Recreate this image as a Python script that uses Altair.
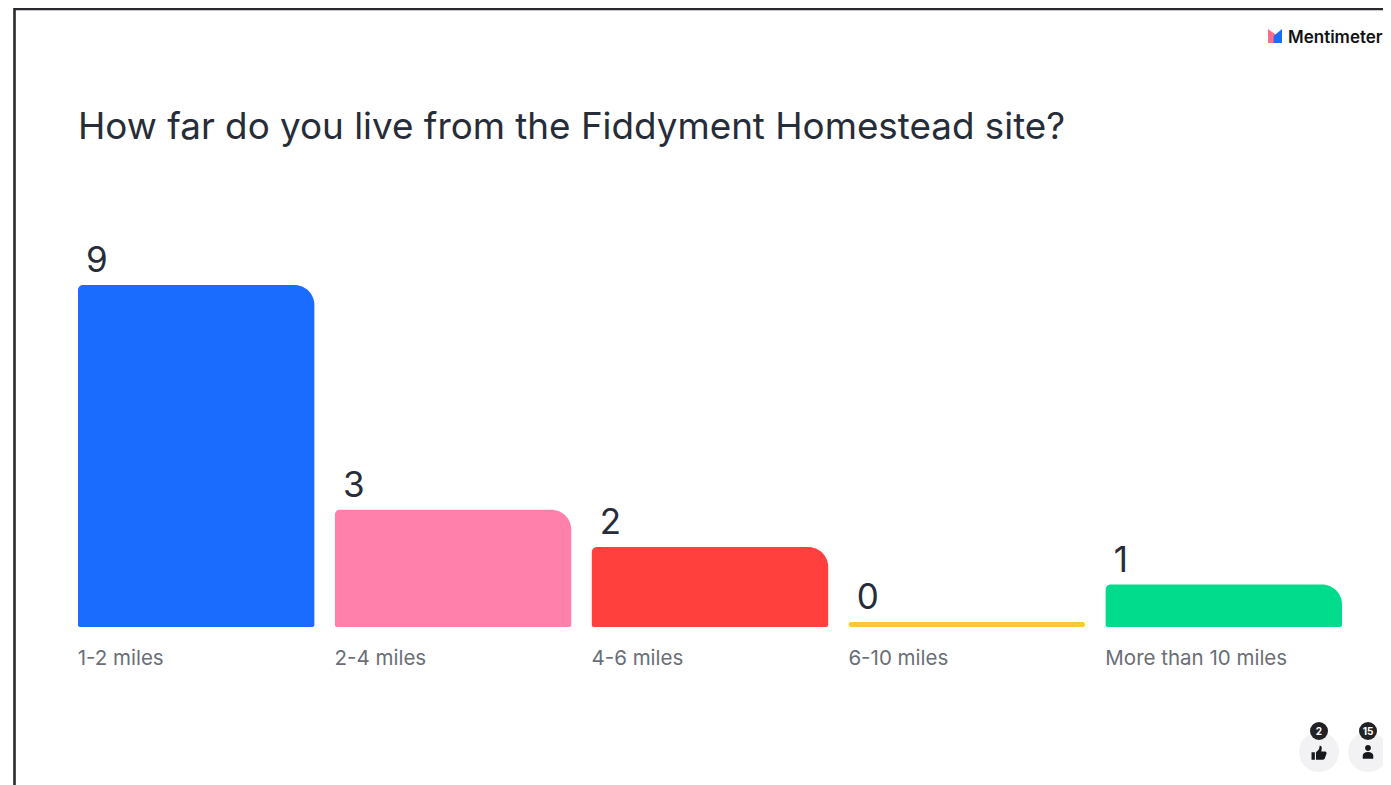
import altair as alt
import pandas as pd

categories = ["1-2 miles", "2-4 miles", "4-6 miles", "6-10 miles", "More than 10 miles"]
votes = [9, 3, 2, 0, 1]
colors = ["#196CFF", "#FF80AB", "#FF403D", "#FFC738", "#00DC8C"]
question = "How far do you live from the Fiddyment Homestead site?"
brand = "Mentimeter"
reactions = "2"
participants = "15"

FONT = "Inter"
INK = "#262C38"
MUTED = "#6A6E76"
FLOOR = -0.134

df = pd.DataFrame({"cat": categories, "votes": votes, "color": colors})
one = alt.Data(values=[{"k": 1}])

PL, PT, PW, PH = 78, 285, 1264, 342
def X(v): return alt.value(v - PL)
def Y(v): return alt.value(v - PT)

xs = alt.X("cat:N", sort=categories, scale=alt.Scale(paddingInner=0.08, paddingOuter=0),
           axis=alt.Axis(title=None, ticks=False, domain=False, labelAngle=0, labelAlign="left",
                         labelOffset=-118.5, labelFontSize=20.5, labelColor=MUTED, labelFont=FONT,
                         labelPadding=31, labelBaseline="middle", labelLimit=300))
ys = alt.Y("votes:Q", scale=alt.Scale(domain=[FLOOR, 9]), axis=None)
col = alt.Color("color:N", scale=None, legend=None)

base = alt.Chart(df)
bars = base.transform_filter("datum.votes > 0").mark_bar(
    cornerRadiusTopRight=20, cornerRadiusTopLeft=5, cornerRadiusBottomLeft=2, cornerRadiusBottomRight=2
).encode(x=xs, y=ys, y2=alt.datum(FLOOR), color=col)
stub = base.transform_filter("datum.votes === 0").mark_bar(cornerRadius=2.5).encode(
    x=xs, y=ys, y2=alt.datum(FLOOR), color=col)
nums = base.mark_text(align="left", baseline="bottom", dx=8, dy=-6, fontSize=35, font=FONT, color=INK).encode(
    x=alt.X("cat:N", sort=categories, bandPosition=0), y=ys, text="votes:Q")

def frame(x1, x2, y1, y2, w=2.6, c="#2A2A2E"):
    return alt.Chart(one).mark_rule(color=c, strokeWidth=w).encode(x=X(x1), x2=X(x2), y=Y(y1), y2=Y(y2))

def dot(x, y, r, c):
    return alt.Chart(one).mark_point(filled=True, opacity=1, color=c, shape="circle",
                                     size=4 * r * r).encode(x=X(x), y=Y(y))

def glyph(x, y, path, s, c="#17181C"):
    return alt.Chart(one).mark_point(filled=True, opacity=1, color=c, shape=path, size=s * s,
                                     strokeWidth=0).encode(x=X(x), y=Y(y))

def label(x, y, t, size, c, weight=400, align="left"):
    return alt.Chart(one).mark_text(text=t, fontSize=size, color=c, font=FONT, fontWeight=weight,
                                    align=align, baseline="middle").encode(x=X(x), y=Y(y))

thumb = "M-1 -0.1 L-0.55 -0.1 L-0.55 0.9 L-1 0.9 Z M-0.4 -0.1 L0 -0.5 L0.1 -1 Q0.45 -0.95 0.35 -0.5 L0.3 -0.2 L0.85 -0.2 Q1.05 -0.15 1 0.1 L0.75 0.75 Q0.65 0.9 0.5 0.9 L-0.4 0.9 Z"
person = "M0 -1 A0.42 0.42 0 1 1 -0.001 -1 Z M-0.75 0.95 L-0.75 0.5 Q-0.7 0 0 0 Q0.7 0 0.75 0.5 L0.75 0.95 Z"
logo_l = "M-1 -1 L0.1 -0.2 L0.1 1 L-1 1 Z"
logo_r = "M-0.2 0 L1 -1 L1 1 L-0.2 1 Z"

layers = [
    frame(14.5, 1391, 9, 9),
    frame(14.5, 14.5, 8, 785),
    bars, stub, nums,
    label(78, 127.5, question, 36.8, INK),
    glyph(1275, 36, logo_l, 14, "#FF6A8E"),
    glyph(1275, 36, logo_r, 14, "#196CFF"),
    label(1288, 38, brand, 17, "#101216", 600),
    dot(1319, 752, 20, "#F2F2F4"),
    dot(1368, 752, 20, "#F2F2F4"),
    glyph(1319, 753, thumb, 15),
    glyph(1368, 752, person, 14),
    dot(1319, 731, 9, "#222226"),
    dot(1368, 731, 9, "#222226"),
    label(1319, 731.5, reactions, 10, "#FFFFFF", 700, "center"),
    label(1368, 731.5, participants, 10, "#FFFFFF", 700, "center"),
]

chart = alt.layer(*layers).properties(
    width=PW, height=PH,
    padding={"left": PL - 8, "top": PT - 8, "right": 41, "bottom": 158},
    autosize=alt.AutoSizeParams(type="none"),
    background="#FFFFFF",
).configure_view(stroke=None)

chart.save("out.html", embed_options={"renderer": "svg", "actions": False})
